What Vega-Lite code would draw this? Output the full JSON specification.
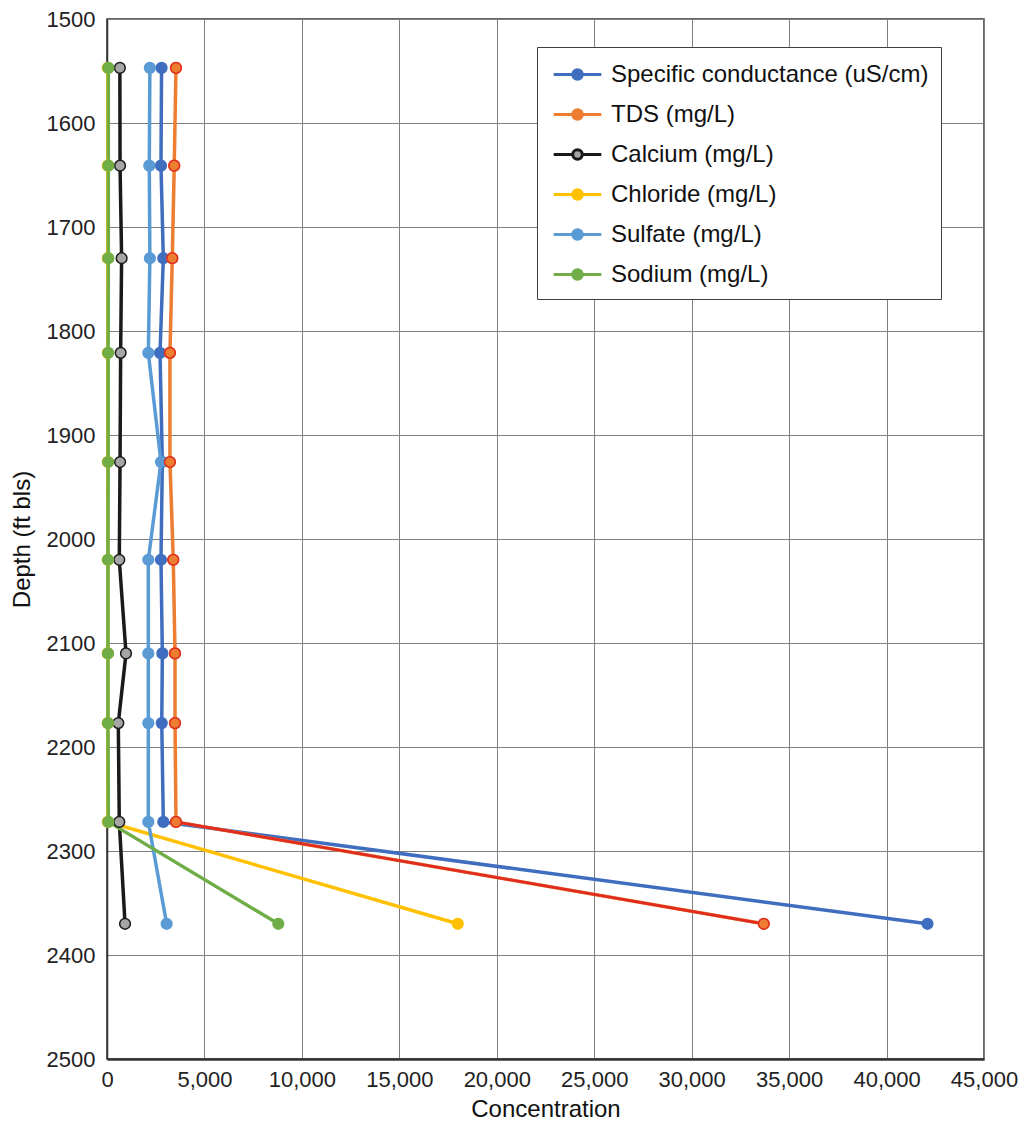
{
  "$schema": "https://vega.github.io/schema/vega-lite/v6.json",
  "width": 877,
  "height": 1040,
  "autosize": {"type": "none"},
  "padding": {"left": 107, "top": 19, "right": 46, "bottom": 75},
  "background": "white",
  "config": {
    "font": "Liberation Sans",
    "view": {"stroke": "#333333", "strokeWidth": 1.5},
    "axis": {
      "labelFont": "Liberation Sans",
      "titleFont": "Liberation Sans",
      "labelColor": "#222222",
      "titleColor": "#111111",
      "labelFontSize": 22,
      "labelFontWeight": "normal",
      "titleFontSize": 24,
      "titleFontWeight": "normal",
      "grid": true,
      "gridColor": "#7f7f7f",
      "gridWidth": 1,
      "gridOpacity": 1,
      "ticks": false,
      "domainColor": "#333333"
    },
    "legend": {
      "orient": "none",
      "legendX": 430,
      "legendY": 28,
      "padding": 12,
      "strokeColor": "#404040",
      "fillColor": "white",
      "symbolType": "M-1.7,0H-0.34M0.34,0H1.7M0.34,0A0.34,0.34 0 1,1 -0.34,0A0.34,0.34 0 1,1 0.34,0Z",
      "symbolSize": 784,
      "symbolStrokeWidth": 3,
      "symbolOffset": 13,
      "labelOffset": 18,
      "labelFont": "Liberation Sans",
      "labelFontSize": 24,
      "labelColor": "#111111",
      "labelLimit": 500,
      "rowPadding": 12
    }
  },
  "data": {
    "values": [
      {"series": "Specific conductance (uS/cm)", "depth": 1547, "value": 2800},
      {"series": "Specific conductance (uS/cm)", "depth": 1641, "value": 2770},
      {"series": "Specific conductance (uS/cm)", "depth": 1730, "value": 2890},
      {"series": "Specific conductance (uS/cm)", "depth": 1821, "value": 2720},
      {"series": "Specific conductance (uS/cm)", "depth": 1926, "value": 2840},
      {"series": "Specific conductance (uS/cm)", "depth": 2020, "value": 2770},
      {"series": "Specific conductance (uS/cm)", "depth": 2110, "value": 2840},
      {"series": "Specific conductance (uS/cm)", "depth": 2177, "value": 2810},
      {"series": "Specific conductance (uS/cm)", "depth": 2272, "value": 2890},
      {"series": "Specific conductance (uS/cm)", "depth": 2370, "value": 42100},
      {"series": "TDS (mg/L)", "depth": 1547, "value": 3540},
      {"series": "TDS (mg/L)", "depth": 1641, "value": 3450},
      {"series": "TDS (mg/L)", "depth": 1730, "value": 3350},
      {"series": "TDS (mg/L)", "depth": 1821, "value": 3230},
      {"series": "TDS (mg/L)", "depth": 1926, "value": 3230},
      {"series": "TDS (mg/L)", "depth": 2020, "value": 3400},
      {"series": "TDS (mg/L)", "depth": 2110, "value": 3490},
      {"series": "TDS (mg/L)", "depth": 2177, "value": 3490},
      {"series": "TDS (mg/L)", "depth": 2272, "value": 3540},
      {"series": "TDS (mg/L)", "depth": 2370, "value": 33700},
      {"series": "Calcium (mg/L)", "depth": 1547, "value": 660},
      {"series": "Calcium (mg/L)", "depth": 1641, "value": 670},
      {"series": "Calcium (mg/L)", "depth": 1730, "value": 750},
      {"series": "Calcium (mg/L)", "depth": 1821, "value": 700},
      {"series": "Calcium (mg/L)", "depth": 1926, "value": 670},
      {"series": "Calcium (mg/L)", "depth": 2020, "value": 630},
      {"series": "Calcium (mg/L)", "depth": 2110, "value": 975},
      {"series": "Calcium (mg/L)", "depth": 2177, "value": 580},
      {"series": "Calcium (mg/L)", "depth": 2272, "value": 630},
      {"series": "Calcium (mg/L)", "depth": 2370, "value": 925},
      {"series": "Chloride (mg/L)", "depth": 1547, "value": 40},
      {"series": "Chloride (mg/L)", "depth": 1641, "value": 40},
      {"series": "Chloride (mg/L)", "depth": 1730, "value": 40},
      {"series": "Chloride (mg/L)", "depth": 1821, "value": 40},
      {"series": "Chloride (mg/L)", "depth": 1926, "value": 40},
      {"series": "Chloride (mg/L)", "depth": 2020, "value": 40},
      {"series": "Chloride (mg/L)", "depth": 2110, "value": 40},
      {"series": "Chloride (mg/L)", "depth": 2177, "value": 40},
      {"series": "Chloride (mg/L)", "depth": 2272, "value": 40},
      {"series": "Chloride (mg/L)", "depth": 2370, "value": 18000},
      {"series": "Sulfate (mg/L)", "depth": 1547, "value": 2200},
      {"series": "Sulfate (mg/L)", "depth": 1641, "value": 2170},
      {"series": "Sulfate (mg/L)", "depth": 1730, "value": 2200},
      {"series": "Sulfate (mg/L)", "depth": 1821, "value": 2120},
      {"series": "Sulfate (mg/L)", "depth": 1926, "value": 2770},
      {"series": "Sulfate (mg/L)", "depth": 2020, "value": 2120},
      {"series": "Sulfate (mg/L)", "depth": 2110, "value": 2120},
      {"series": "Sulfate (mg/L)", "depth": 2177, "value": 2120},
      {"series": "Sulfate (mg/L)", "depth": 2272, "value": 2120},
      {"series": "Sulfate (mg/L)", "depth": 2370, "value": 3060},
      {"series": "Sodium (mg/L)", "depth": 1547, "value": 70},
      {"series": "Sodium (mg/L)", "depth": 1641, "value": 70},
      {"series": "Sodium (mg/L)", "depth": 1730, "value": 70},
      {"series": "Sodium (mg/L)", "depth": 1821, "value": 60},
      {"series": "Sodium (mg/L)", "depth": 1926, "value": 60},
      {"series": "Sodium (mg/L)", "depth": 2020, "value": 50},
      {"series": "Sodium (mg/L)", "depth": 2110, "value": 50},
      {"series": "Sodium (mg/L)", "depth": 2177, "value": 50},
      {"series": "Sodium (mg/L)", "depth": 2272, "value": 70},
      {"series": "Sodium (mg/L)", "depth": 2370, "value": 8790}
    ]
  },
  "encoding": {
    "x": {
      "field": "value",
      "type": "quantitative",
      "title": "Concentration",
      "scale": {"domain": [0, 45000], "nice": false},
      "axis": {
        "values": [0, 5000, 10000, 15000, 20000, 25000, 30000, 35000, 40000, 45000],
        "format": ",d",
        "labelPadding": 10,
        "titlePadding": 7,
        "domainWidth": 2.5,
        "labelFlush": false
      }
    },
    "y": {
      "field": "depth",
      "type": "quantitative",
      "title": "Depth (ft bls)",
      "scale": {"domain": [1500, 2500], "nice": false, "reverse": true, "zero": false},
      "axis": {
        "values": [1500, 1600, 1700, 1800, 1900, 2000, 2100, 2200, 2300, 2400, 2500],
        "format": "d",
        "labelPadding": 12,
        "titlePadding": 12,
        "domainWidth": 1.5,
        "labelFlush": false
      }
    }
  },
  "layer": [
    {
      "mark": {"type": "line", "strokeWidth": 3.5},
      "encoding": {
        "stroke": {
          "field": "series",
          "type": "nominal",
          "title": null,
          "scale": {
            "domain": ["Specific conductance (uS/cm)", "TDS (mg/L)", "Calcium (mg/L)", "Chloride (mg/L)", "Sulfate (mg/L)", "Sodium (mg/L)"],
            "range": ["#3F6DBF", "#ED7D31", "#1a1a1a", "#FFC000", "#5B9BD5", "#70AD47"]
          },
          "legend": {"orient": "none", "legendX": 430, "legendY": 28}
        },
        "order": {"field": "depth", "type": "quantitative"}
      }
    },
    {
      "transform": [{"filter": "datum.series === 'TDS (mg/L)' && datum.depth >= 2272"}],
      "mark": {"type": "line", "strokeWidth": 2.8, "color": "#E02B20"},
      "encoding": {
        "order": {"field": "depth", "type": "quantitative"}
      }
    },
    {
      "mark": {"type": "point", "filled": true, "shape": "circle", "size": 115, "strokeWidth": 1.5, "opacity": 1, "fillOpacity": 1, "strokeOpacity": 1},
      "encoding": {
        "fill": {
          "field": "series",
          "type": "nominal",
          "title": null,
          "scale": {
            "domain": ["Specific conductance (uS/cm)", "TDS (mg/L)", "Calcium (mg/L)", "Chloride (mg/L)", "Sulfate (mg/L)", "Sodium (mg/L)"],
            "range": ["#3F6DBF", "#ED7D31", "#A6A6A6", "#FFC000", "#5B9BD5", "#70AD47"]
          }
        },
        "stroke": {
          "field": "series",
          "type": "nominal",
          "title": null
        }
      }
    },
    {
      "transform": [{"filter": "datum.series === 'TDS (mg/L)'"}],
      "mark": {"type": "point", "filled": true, "shape": "circle", "size": 115, "strokeWidth": 1.5, "opacity": 1, "fill": "#ED7D31", "stroke": "#E02B20"},
      "encoding": {}
    }
  ]
}
